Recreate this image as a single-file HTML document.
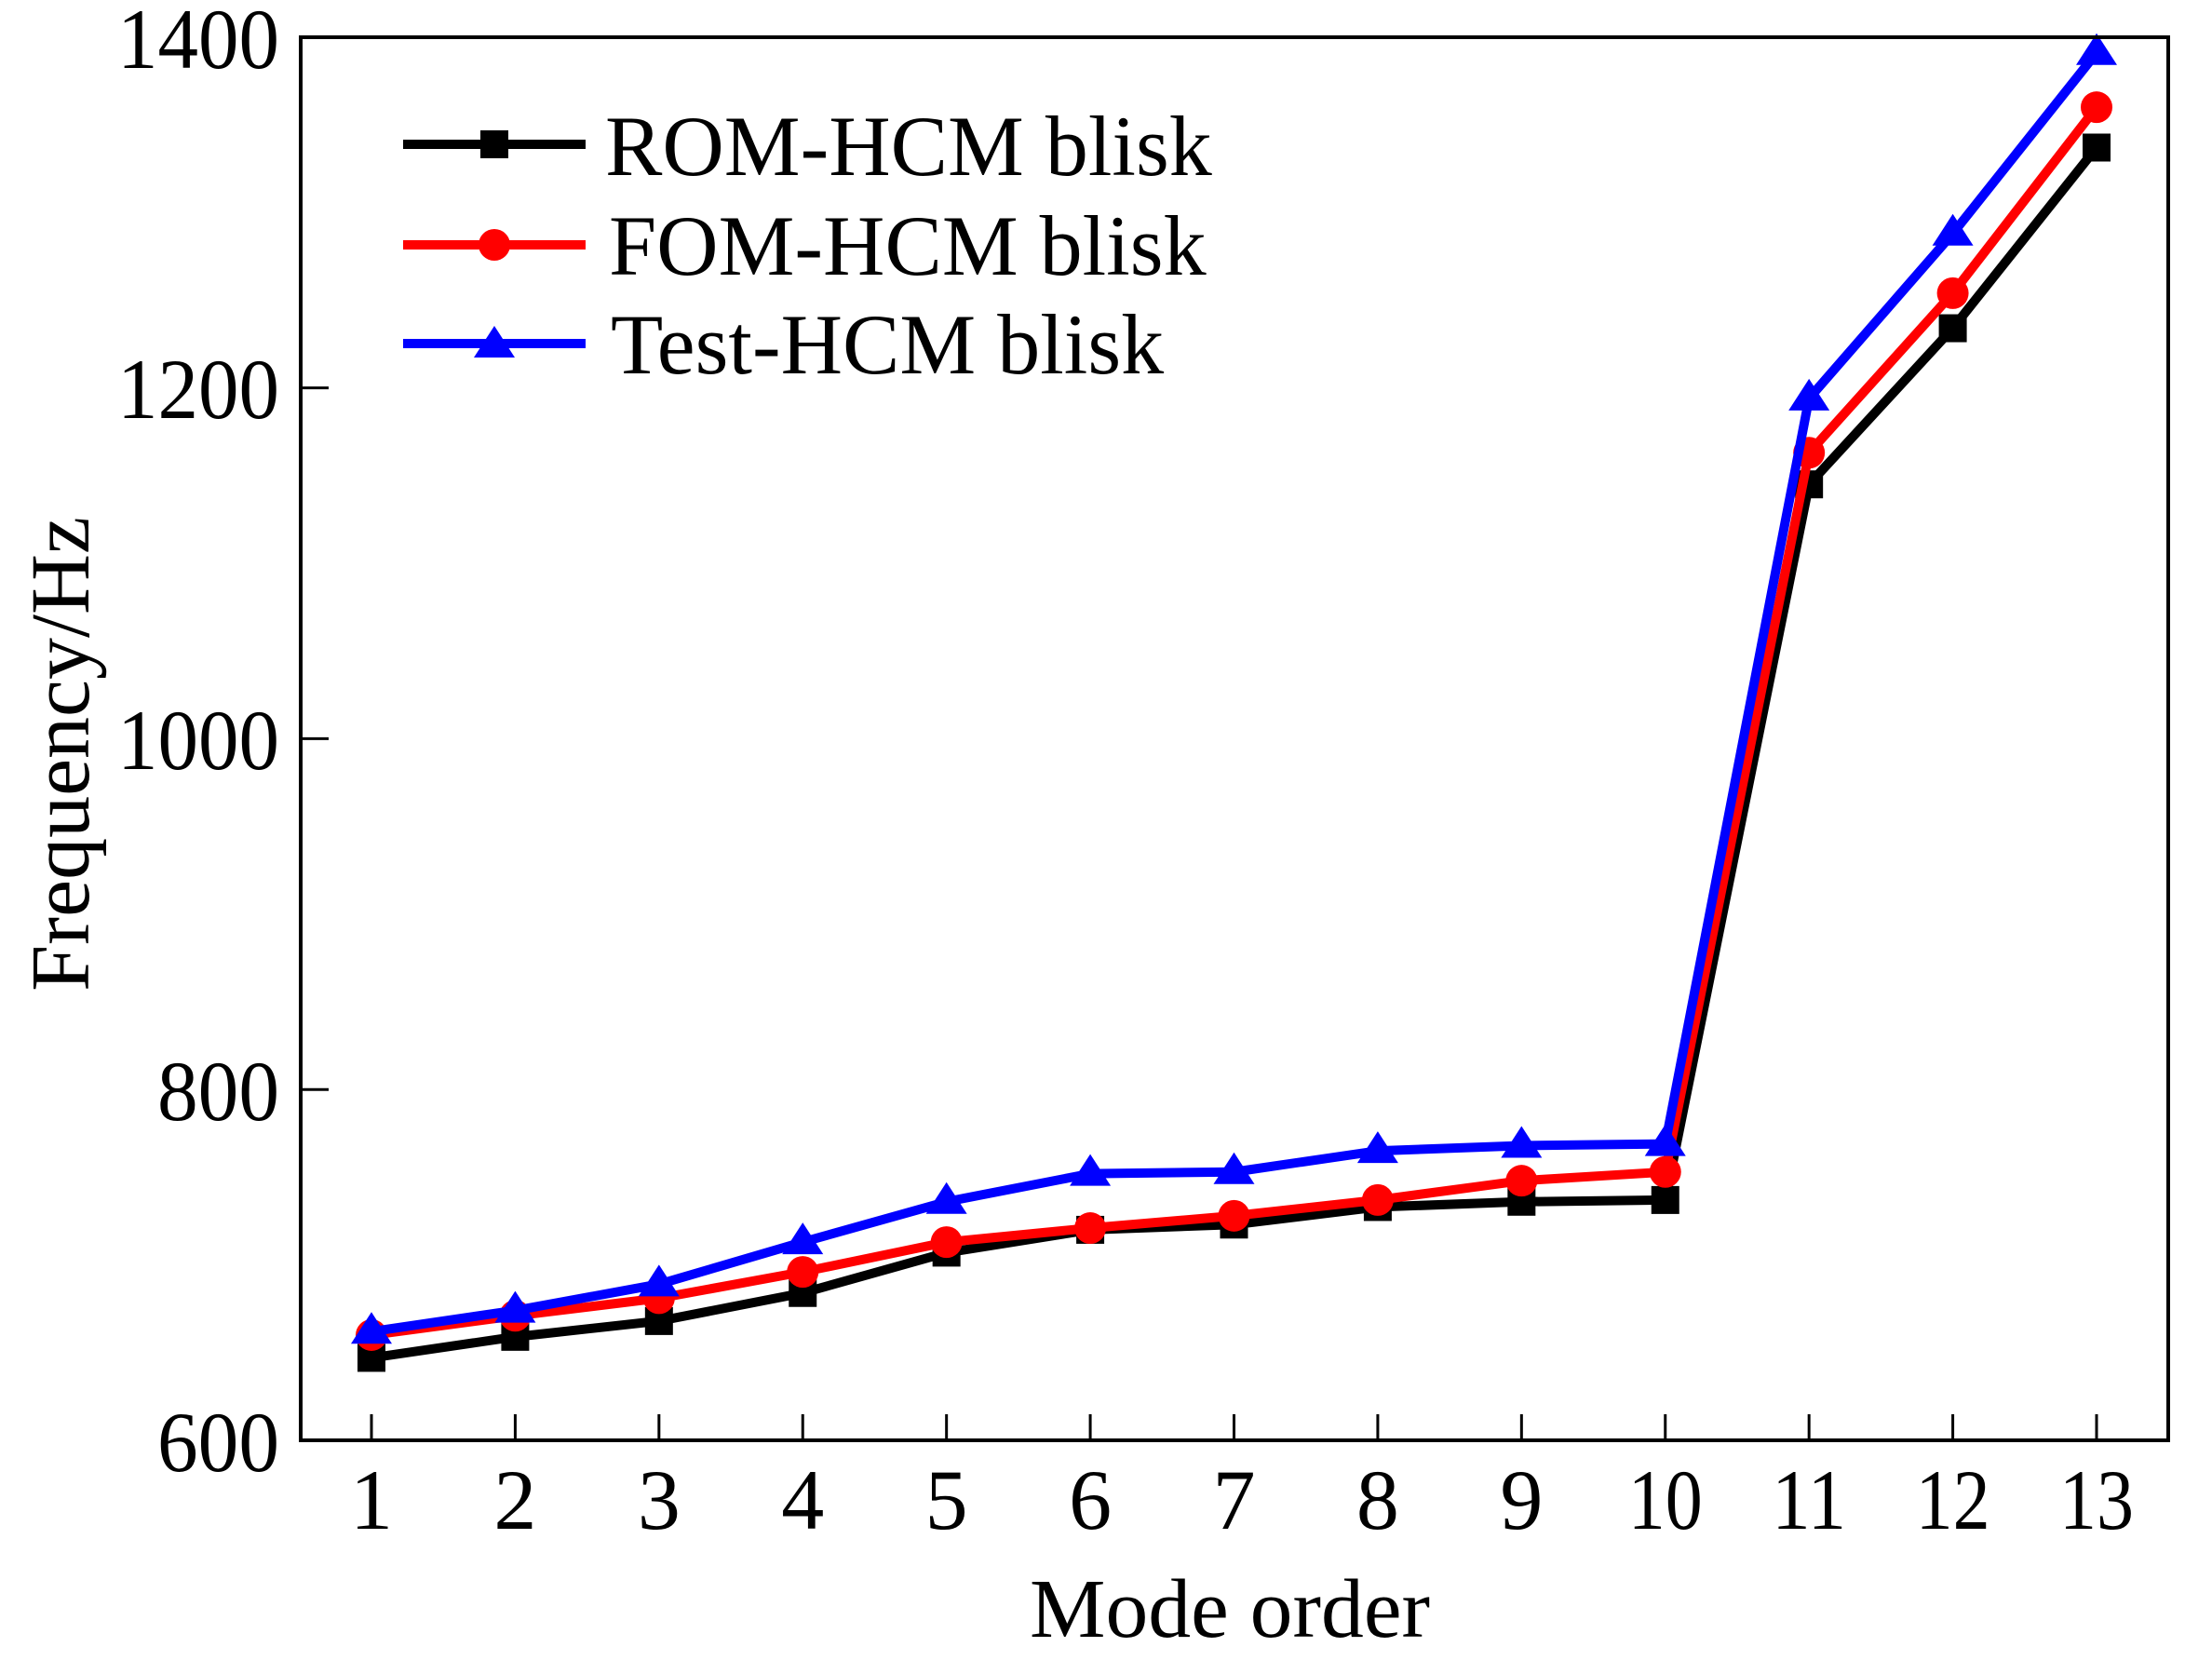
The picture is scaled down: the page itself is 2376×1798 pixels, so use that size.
<!DOCTYPE html>
<html><head><meta charset="utf-8"><style>
html,body{margin:0;padding:0;background:#fff;}
svg{display:block;}
text{font-family:"Liberation Serif",serif;fill:#000;}
</style></head><body>
<svg id="s" width="2376" height="1798" viewBox="0 0 2376 1798" xmlns="http://www.w3.org/2000/svg">
<rect width="2376" height="1798" fill="#fff"/>
<g id="plot"></g>
<rect x="323" y="40" width="2006" height="1507" fill="none" stroke="#000" stroke-width="4"/>
<g id="ticks" stroke="#000" stroke-width="3"></g>
<g font-size="92">
<text x="300" y="73" text-anchor="end" textLength="174" lengthAdjust="spacingAndGlyphs">1400</text>
<text x="300" y="449" text-anchor="end" textLength="174" lengthAdjust="spacingAndGlyphs">1200</text>
<text x="300" y="826" text-anchor="end" textLength="174" lengthAdjust="spacingAndGlyphs">1000</text>
<text x="300" y="1203" text-anchor="end" textLength="131" lengthAdjust="spacingAndGlyphs">800</text>
<text x="300" y="1580" text-anchor="end" textLength="131" lengthAdjust="spacingAndGlyphs">600</text>
</g>
<g id="xl" font-size="92" text-anchor="middle"></g>
<text x="1321" y="1758" font-size="90" text-anchor="middle" textLength="430" lengthAdjust="spacingAndGlyphs">Mode order</text>
<text transform="translate(95,810) rotate(-90)" font-size="90" text-anchor="middle">Frequency/Hz</text>
<g>
<line x1="433" y1="155" x2="629" y2="155" stroke="#000" stroke-width="10"/>
<rect x="516" y="140" width="30" height="30" fill="#000"/>
<line x1="433" y1="263" x2="629" y2="263" stroke="#f00" stroke-width="10"/>
<circle cx="531" cy="263" r="17" fill="#f00"/>
<line x1="433" y1="369" x2="629" y2="369" stroke="#00f" stroke-width="10"/>
<polygon points="531,350 553,384 509,384" fill="#00f"/>
<g font-size="92">
<text x="650" y="188">ROM-HCM blisk</text>
<text x="654" y="295">FOM-HCM blisk</text>
<text x="656" y="401">Test-HCM blisk</text>
</g>
</g>
</svg>
<script>
var X=i=>399+(i-1)*(2252-399)/12, Y=v=>1547-(v-600)*1.884;
var rom=[647,659,668,684,707,720,723,733,736,737,1145,1234,1337];
var fom=[660,671,681,696,713,721,728,737,748,753,1163,1254,1360];
var tst=[662,674,689,713,736,752,753,765,768,769,1194,1288,1391];
var ns="http://www.w3.org/2000/svg",p=document.getElementById("plot");
function el(t,a,par){var e=document.createElementNS(ns,t);for(var k in a)e.setAttribute(k,a[k]);(par||p).appendChild(e);return e;}
function series(d,c,m){
 el("polyline",{points:d.map((v,i)=>X(i+1)+","+Y(v)).join(" "),fill:"none",stroke:c,"stroke-width":10,"stroke-linejoin":"round"});
 d.forEach((v,i)=>{var x=X(i+1),y=Y(v);
  if(m==0)el("rect",{x:x-15,y:y-15,width:30,height:30,fill:c});
  else if(m==1)el("circle",{cx:x,cy:y,r:17,fill:c});
  else el("polygon",{points:(x)+","+(y-21)+" "+(x+22)+","+(y+13)+" "+(x-22)+","+(y+13),fill:c});});
}
series(rom,"#000",0);series(fom,"#f00",1);series(tst,"#00f",2);
var t=document.getElementById("ticks"),xl=document.getElementById("xl");
for(var i=1;i<=13;i++){el("line",{x1:X(i),y1:1547,x2:X(i),y2:1519},t);var a={x:X(i),y:1642};if(i>=10){a.textLength=80;a.lengthAdjust="spacingAndGlyphs";}var tx=el("text",a,xl);tx.textContent=i;}
[1200,1000,800].forEach(v=>el("line",{x1:323,y1:Y(v),x2:353,y2:Y(v)},t));
</script>
</body></html>
